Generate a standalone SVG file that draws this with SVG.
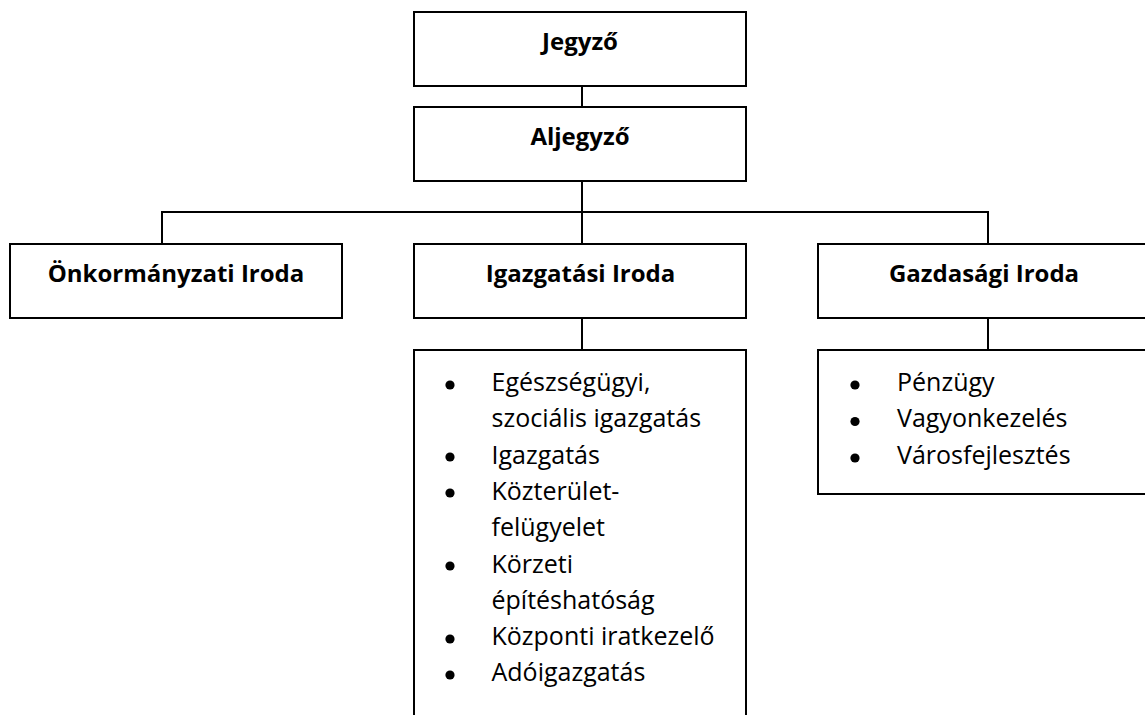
<svg xmlns="http://www.w3.org/2000/svg" width="1145" height="715" viewBox="0 0 1145 715">
<style>
.box{fill:#fff;stroke:#000;stroke-width:2}
.con{fill:none;stroke:#000;stroke-width:2}
.t{font-family:"Open Sans","Noto Sans","Liberation Sans",sans-serif;font-size:24px;font-weight:bold;fill:#000;text-anchor:middle}
.li{font-family:"Open Sans","Noto Sans","Liberation Sans",sans-serif;font-size:25px;fill:#000}
.b{fill:#000}
</style>
<rect width="1145" height="715" fill="#fff"/>
<g id="connectors">
<line class="con" x1="582" y1="86" x2="582" y2="107"/>
<line class="con" x1="582" y1="181" x2="582" y2="244"/>
<polyline class="con" points="162,244 162,212 988,212 988,244"/>
<line class="con" x1="582" y1="318" x2="582" y2="350"/>
<line class="con" x1="988" y1="318" x2="988" y2="350"/>
</g>
<g id="jegyzo">
<rect class="box" x="414" y="12" width="332" height="74"/>
<text class="t" x="580" y="50">Jegyző</text>
</g>
<g id="aljegyzo">
<rect class="box" x="414" y="107" width="332" height="74"/>
<text class="t" x="580" y="144.5">Aljegyző</text>
</g>
<g id="onkormanyzati">
<rect class="box" x="10" y="244" width="332" height="74"/>
<text class="t" x="176" y="282">Önkormányzati Iroda</text>
</g>
<g id="igazgatasi">
<rect class="box" x="414" y="244" width="332" height="74"/>
<text class="t" x="580.5" y="282">Igazgatási Iroda</text>
</g>
<g id="gazdasagi">
<rect class="box" x="818" y="244" width="340" height="74"/>
<text class="t" x="984" y="282">Gazdasági Iroda</text>
</g>
<g id="igazgatasi-lista">
<rect class="box" x="414" y="350" width="332" height="390"/>
<circle class="b" cx="450" cy="385" r="4.6"/>
<circle class="b" cx="450" cy="457" r="4.6"/>
<circle class="b" cx="450" cy="493" r="4.6"/>
<circle class="b" cx="450" cy="566" r="4.6"/>
<circle class="b" cx="450" cy="639" r="4.6"/>
<circle class="b" cx="450" cy="675" r="4.6"/>
<text class="li" x="491.5" y="391">Egészségügyi,</text>
<text class="li" x="491.5" y="427.3">szociális igazgatás</text>
<text class="li" x="491.5" y="463.6">Igazgatás</text>
<text class="li" x="491.5" y="499.9">Közterület-</text>
<text class="li" x="491.5" y="536.2">felügyelet</text>
<text class="li" x="491.5" y="572.5">Körzeti</text>
<text class="li" x="491.5" y="608.8">építéshatóság</text>
<text class="li" x="491.5" y="645.1">Központi iratkezelő</text>
<text class="li" x="491.5" y="681.4">Adóigazgatás</text>
</g>
<g id="gazdasagi-lista">
<rect class="box" x="818" y="350" width="340" height="144"/>
<circle class="b" cx="855" cy="385" r="4.6"/>
<circle class="b" cx="855" cy="421.5" r="4.6"/>
<circle class="b" cx="855" cy="458" r="4.6"/>
<text class="li" x="897" y="391">Pénzügy</text>
<text class="li" x="897" y="427.3">Vagyonkezelés</text>
<text class="li" x="897" y="463.6">Városfejlesztés</text>
</g>
</svg>
